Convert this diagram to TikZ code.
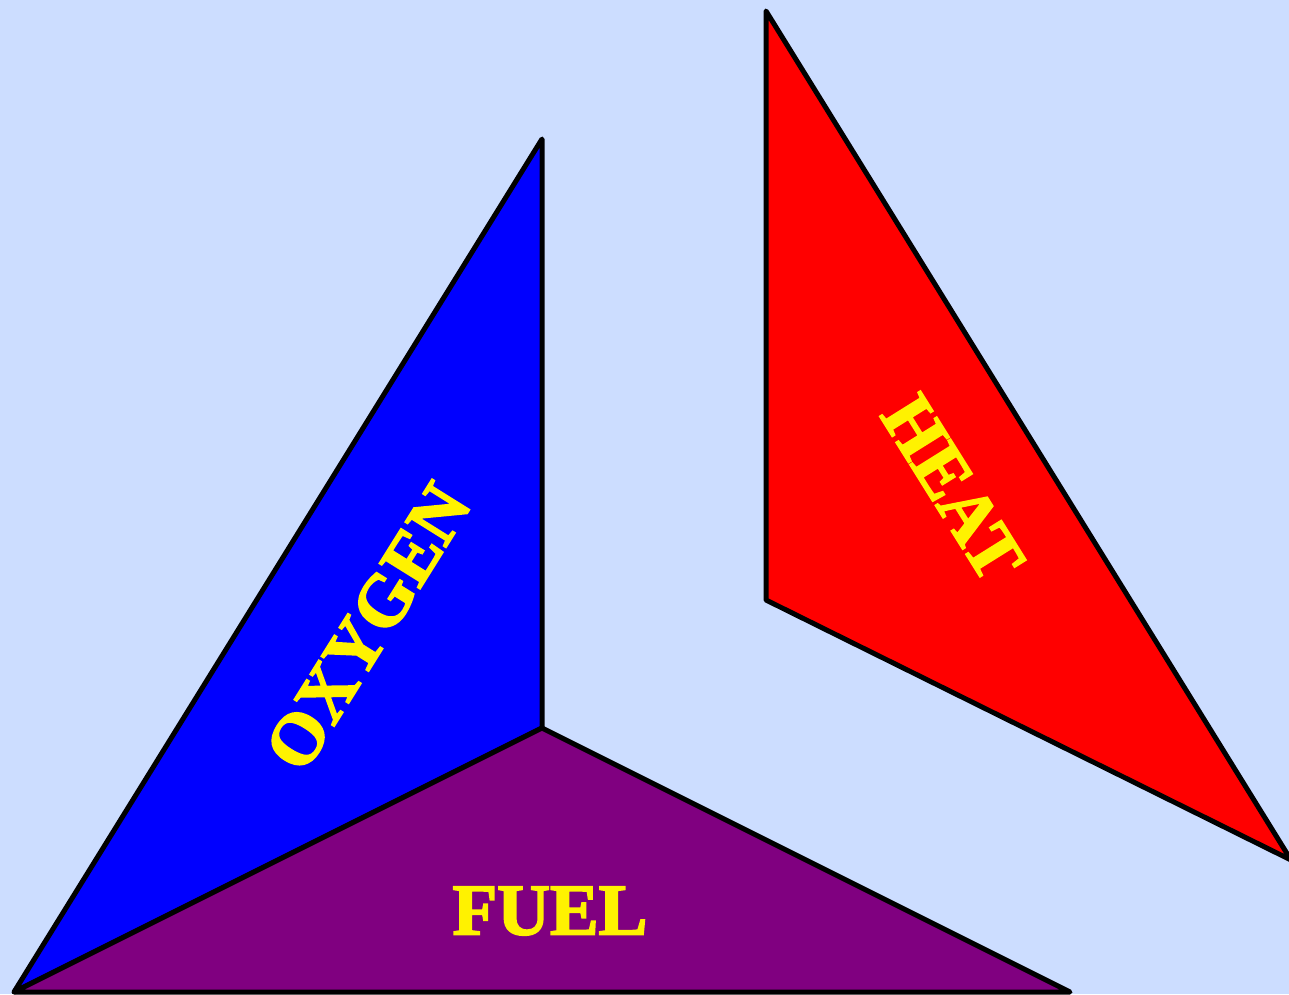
\documentclass[tikz,border=0pt]{standalone}
\usepackage{fontspec}
\setmainfont{Liberation Serif}
\newfontfamily\lblfont{Liberation Serif}[UprightFont={* Bold},FakeBold=2.5]
\definecolor{bgblue}{RGB}{204,221,255}
\definecolor{fuelpurple}{RGB}{128,0,128}
\begin{document}
\begin{tikzpicture}[x=1pt,y=-1pt,
  face/.style={draw=black,line width=5pt,line join=round},
  lbl/.style={text=yellow,font=\lblfont\fontsize{73}{73}\selectfont,inner sep=0pt}]
\fill[bgblue] (0,0) rectangle (1289,994);
\useasboundingbox (0,0) rectangle (1289,994);
\coordinate (top) at (542,139);
\coordinate (mid) at (542,728);
\coordinate (bl) at (14,992);
\coordinate (br) at (1070,992);
\coordinate (htop) at (766,11);
\coordinate (hmid) at (766,600);
\coordinate (hr) at (1291,860);
\filldraw[face,fill=blue] (top) -- (mid) -- (bl) -- cycle;
\filldraw[face,fill=fuelpurple] (bl) -- (mid) -- (br) -- cycle;
\filldraw[face,fill=red] (htop) -- (hmid) -- (hr) -- cycle;
\node[lbl,rotate=58] (oxygen) at (368,627) {OXYGEN};
\node[lbl] (fuel) at (550,911) {FUEL};
\node[lbl,rotate=-58] (heat) at (953,488) {HEAT};
\end{tikzpicture}
\end{document}
